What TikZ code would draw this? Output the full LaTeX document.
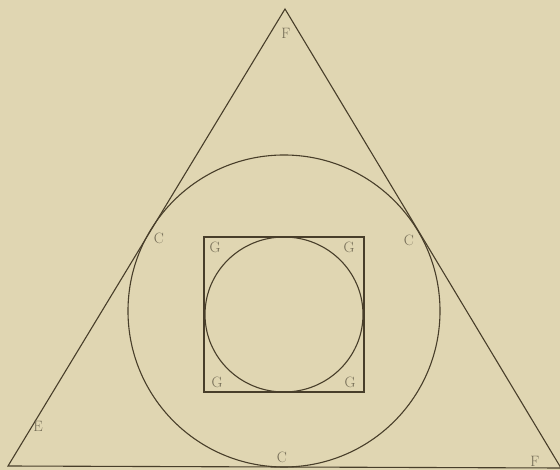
\documentclass[tikz,border=0pt]{standalone}
\usepackage{fontspec}
\begin{document}
\begin{tikzpicture}[x=1pt,y=-1pt,
  ink/.style={draw=inkc,line width=1.1pt},
  lbl/.style={text=labc,font=\fontsize{15}{15}\selectfont,inner sep=0pt}]
\definecolor{bgc}{RGB}{224,214,178}
\definecolor{inkc}{RGB}{72,62,42}
\definecolor{labc}{RGB}{115,107,85}
\fill[bgc] (0,0) rectangle (560,470);
\useasboundingbox (0,0) rectangle (560,470);
% triangle
\coordinate (T) at (285,9);
\coordinate (L) at (8,466);
\coordinate (R) at (561,468);
\draw[ink,line join=miter] (T) -- (L) -- (R) -- cycle;
% incircle
\draw[ink] (284,311) circle[radius=156];
% square
\draw[ink] (204,237) rectangle (364,392);
% inner circle
\draw[ink] (284,314.5) ellipse[x radius=79,y radius=77.5];
% labels
\node[lbl] (f1) at (286,33) {F};
\node[lbl] (e1) at (38,426) {E};
\node[lbl] (f2) at (535,461) {F};
\node[lbl] (c1) at (159,238) {C};
\node[lbl] (c2) at (409,240) {C};
\node[lbl] (c3) at (282,457) {C};
\node[lbl] (g1) at (215,247) {G};
\node[lbl] (g2) at (349,247) {G};
\node[lbl] (g3) at (217,382) {G};
\node[lbl] (g4) at (350,382) {G};
\end{tikzpicture}
\end{document}
